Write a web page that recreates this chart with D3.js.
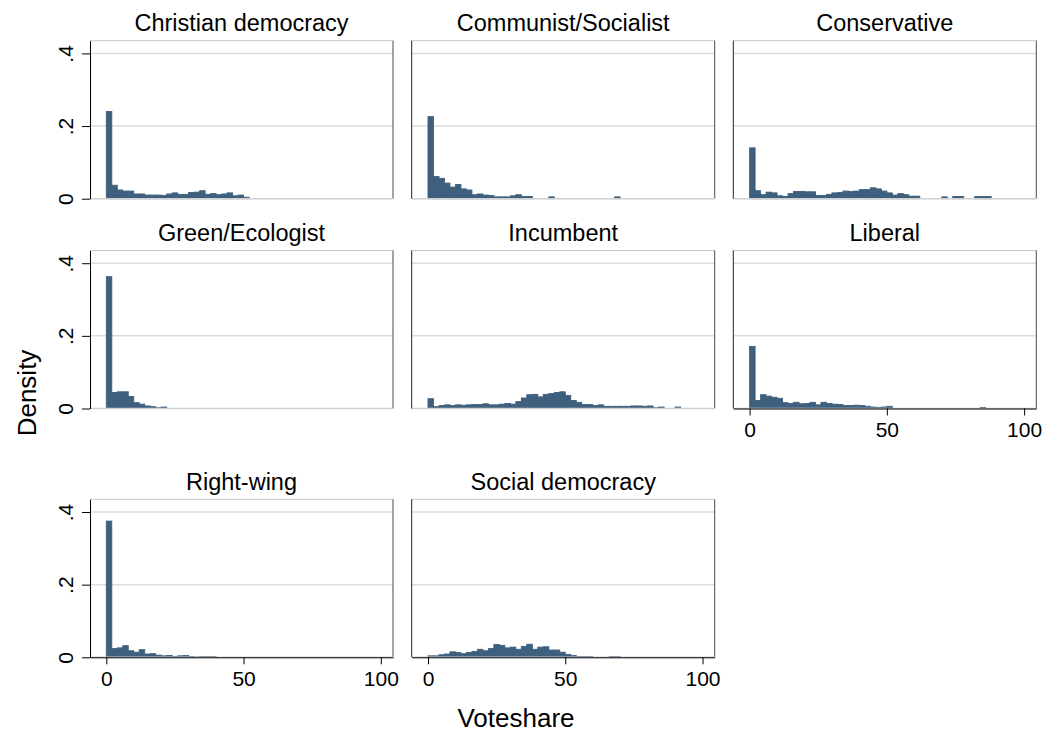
<!DOCTYPE html>
<html lang="en">
<head>
<meta charset="UTF-8">
<title>Voteshare by party family</title>
<script src="https://cdn.jsdelivr.net/npm/d3@7"></script>
<style>
  body { margin: 0; background: #fff; font-family: "Liberation Sans", Arial, Helvetica, sans-serif; }
  text { fill: #000; }
</style>
</head>
<body>
<div id="chart"></div>
<script>
// one density value per 2-point voteshare bin, starting at 0
const panelTitles = ["Christian democracy", "Communist/Socialist", "Conservative",
  "Green/Ecologist", "Incumbent", "Liberal", "Right-wing", "Social democracy"];

const christianDemocracy = [0.240, 0.037, 0.024, 0.021, 0.021, 0.013, 0.013, 0.010, 0.010, 0.010,
  0.009, 0.013, 0.016, 0.012, 0.012, 0.017, 0.018, 0.022, 0.012, 0.014,
  0.011, 0.013, 0.016, 0.008, 0.010, 0.004];
const communistSocialist = [0.226, 0.061, 0.056, 0.043, 0.032, 0.039, 0.027, 0.024, 0.011, 0.013,
  0.010, 0.009, 0.005, 0.005, 0.005, 0.008, 0.011, 0.006, 0.006, 0,
  0, 0, 0.005, 0, 0, 0, 0, 0, 0, 0,
  0, 0, 0, 0, 0.005];
const conservative = [0.140, 0.022, 0.011, 0.018, 0.016, 0.008, 0.006, 0.014, 0.020, 0.020,
  0.019, 0.019, 0.009, 0.009, 0.012, 0.016, 0.017, 0.021, 0.020, 0.021,
  0.025, 0.025, 0.030, 0.027, 0.021, 0.016, 0.010, 0.014, 0.011, 0.007,
  0.007, 0, 0, 0, 0, 0.005, 0, 0.006, 0.006, 0,
  0, 0.006, 0.006, 0.006];
const greenEcologist = [0.363, 0.044, 0.046, 0.046, 0.033, 0.016, 0.012, 0.007, 0.005, 0.002,
  0.004];
const incumbent = [0.027, 0.005, 0.008, 0.010, 0.008, 0.010, 0.009, 0.010, 0.011, 0.011,
  0.013, 0.010, 0.010, 0.012, 0.014, 0.012, 0.019, 0.029, 0.038, 0.039,
  0.032, 0.039, 0.041, 0.044, 0.046, 0.036, 0.022, 0.017, 0.011, 0.011,
  0.008, 0.010, 0.006, 0.006, 0.006, 0.006, 0.006, 0.007, 0.007, 0.006,
  0.007, 0.002, 0.004, 0, 0, 0.004];
const liberal = [0.171, 0.022, 0.038, 0.034, 0.031, 0.028, 0.016, 0.014, 0.017, 0.013,
  0.014, 0.017, 0.010, 0.017, 0.014, 0.012, 0.011, 0.008, 0.008, 0.009,
  0.008, 0.006, 0.004, 0.003, 0.004, 0.006, 0, 0, 0, 0,
  0, 0, 0, 0, 0, 0, 0, 0, 0, 0,
  0, 0, 0.003];
const rightWing = [0.375, 0.024, 0.026, 0.032, 0.018, 0.014, 0.021, 0.009, 0.010, 0.006,
  0.004, 0.005, 0.002, 0.004, 0.005, 0.002, 0.001, 0.002, 0.002, 0.002];
const socialDemocracy = [0.004, 0.004, 0.007, 0.009, 0.015, 0.013, 0.010, 0.013, 0.016, 0.022,
  0.018, 0.024, 0.035, 0.033, 0.026, 0.028, 0.022, 0.030, 0.036, 0.022,
  0.028, 0.029, 0.020, 0.020, 0.014, 0.008, 0.005, 0.002, 0.002, 0.002,
  0, 0, 0, 0.002, 0.002];

const panelSeries = [christianDemocracy, communistSocialist, conservative,
  greenEcologist, incumbent, liberal, rightWing, socialDemocracy];
const binWidth = 2;
const xTicks = [0, 50, 100];
const yTicks = [0, 0.2, 0.4];
const xTitle = "Voteshare";
const yTitle = "Density";

const width = 1048, height = 739;
const colLeft = [90, 411.7, 733.3];
const rowTop = [40.7, 250.5, 499.3];
const pw = 303, ph = 158;
const barColor = "#3e607e";

const svg = d3.select("#chart").append("svg")
    .attr("width", width)
    .attr("height", height)
    .style("display", "block");

const x = d3.scaleLinear().domain([-5.94, 104.44]).range([0, pw]);
const y = d3.scaleLinear().domain([0, 0.435]).range([ph, 0]);
const fmt = d => d === 0 ? "0" : d3.format(".1f")(d).replace(/^0/, "");

panelSeries.forEach((vals, i) => {
    const col = i % 3, row = Math.floor(i / 3);
    const g = svg.append("g").attr("transform", `translate(${colLeft[col]},${rowTop[row]})`);
    const hasXAxis = i + 3 >= panelSeries.length;

    // title
    g.append("text")
        .attr("x", pw / 2)
        .attr("y", -9.7)
        .attr("text-anchor", "middle")
        .style("font-size", "23.5px")
        .text(panelTitles[i]);

    // grid lines
    g.selectAll(".grid")
        .data(yTicks.filter(t => t > 0))
        .enter().append("line")
        .attr("x1", 0).attr("x2", pw)
        .attr("y1", d => y(d)).attr("y2", d => y(d))
        .attr("stroke", "#dcdcdc")
        .attr("stroke-width", 1.5);

    // bars
    g.selectAll(".bar")
        .data(vals.map((v, k) => ({ x0: k * binWidth, v })).filter(d => d.v > 0))
        .enter().append("rect")
        .attr("x", d => x(d.x0))
        .attr("width", d => x(d.x0 + binWidth) - x(d.x0))
        .attr("y", d => y(d.v))
        .attr("height", d => y(0) - y(d.v))
        .attr("fill", barColor)
        .attr("stroke", barColor)
        .attr("stroke-width", 0.9);

    // frame
    g.append("line").attr("x1", 0).attr("x2", pw).attr("y1", 0).attr("y2", 0)
        .attr("stroke", "#c8c8c8").attr("stroke-width", 1);
    g.append("line").attr("x1", pw).attr("x2", pw).attr("y1", 0).attr("y2", ph)
        .attr("stroke", "#4a4a4a").attr("stroke-width", 1);
    g.append("line").attr("x1", 0).attr("x2", pw).attr("y1", ph).attr("y2", ph)
        .attr("stroke", "#d0d0d0").attr("stroke-width", 1.5);

    if (col === 0) {
        const ya = g.append("g")
            .call(d3.axisLeft(y).tickValues(yTicks).tickFormat(fmt).tickSize(8).tickSizeOuter(0));
        ya.select(".domain").attr("stroke", "#000");
        ya.selectAll(".tick line").attr("stroke", "#000");
        ya.selectAll(".tick text")
            .attr("x", null).attr("dy", null)
            .attr("text-anchor", "middle")
            .attr("transform", "translate(-17.5,0) rotate(-90)")
            .style("font-size", "21px")
            .style("font-family", "'Liberation Sans', Arial, sans-serif");
    } else {
        g.append("line").attr("x1", 0).attr("x2", 0).attr("y1", 0).attr("y2", ph)
            .attr("stroke", "#222").attr("stroke-width", 1);
    }

    if (hasXAxis) {
        const xa = g.append("g")
            .attr("transform", `translate(0,${ph})`)
            .call(d3.axisBottom(x).tickValues(xTicks).tickSize(7).tickSizeOuter(0).tickPadding(7));
        xa.select(".domain").attr("stroke", "#000");
        xa.selectAll(".tick line").attr("stroke", "#000");
        xa.selectAll(".tick text")
            .style("font-size", "21px")
            .style("font-family", "'Liberation Sans', Arial, sans-serif");
    }
});

svg.append("text")
    .attr("x", 516)
    .attr("y", 727)
    .attr("text-anchor", "middle")
    .style("font-size", "26px")
    .text(xTitle);

svg.append("text")
    .attr("transform", "translate(36,393) rotate(-90)")
    .attr("text-anchor", "middle")
    .style("font-size", "26px")
    .text(yTitle);
</script>
</body>
</html>
